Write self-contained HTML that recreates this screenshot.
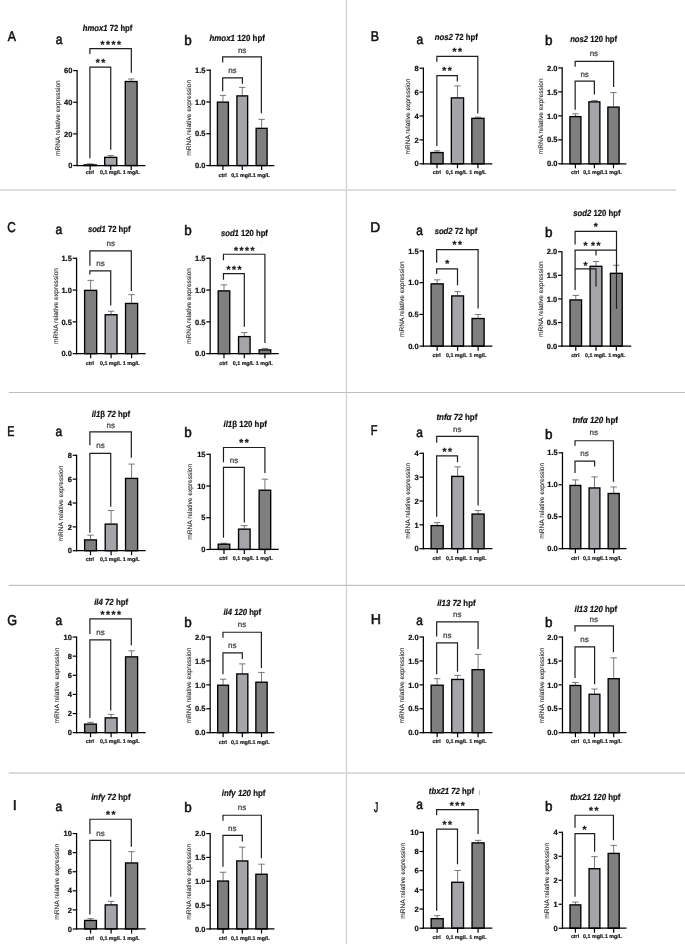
<!DOCTYPE html>
<html lang="en">
<head>
<meta charset="utf-8">
<title>mRNA relative expression panels</title>
<style>
html,body{margin:0;padding:0;background:#fff;}
body{width:685px;height:945px;overflow:hidden;}
svg{display:block;filter:blur(0.3px);font-family:"Liberation Sans",sans-serif;}
svg text{text-rendering:geometricPrecision;stroke:#222;stroke-width:0.22px;paint-order:stroke fill;}
svg text.L{stroke:#111;stroke-width:0.55px;}
svg text.yl{stroke:#333;stroke-width:0.14px;}
svg text.st{stroke:#1c1c1c;stroke-width:0.3px;}
</style>
</head>
<body>
<svg width="685" height="945" viewBox="0 0 685 945">
<rect x="0" y="0" width="685" height="945" fill="#ffffff"/>
<line x1="346.5" y1="0" x2="346.5" y2="944" stroke="#cfcfcf" stroke-width="1.2"/>
<line x1="0" y1="190" x2="676.4" y2="190" stroke="#d4d4d4" stroke-width="1.3"/>
<line x1="8.8" y1="392.5" x2="685" y2="392.5" stroke="#bfbfbf" stroke-width="1.1"/>
<line x1="8.8" y1="585.4" x2="685" y2="585.4" stroke="#c2c2c2" stroke-width="1.1"/>
<line x1="8.8" y1="773" x2="685" y2="773" stroke="#d0d0d0" stroke-width="1.7"/>
<g>
<text x="82.86" y="30.8" font-size="8.8" font-weight="bold" textLength="49.47" lengthAdjust="spacingAndGlyphs" fill="#111"><tspan font-style="italic">hmox1</tspan><tspan font-style="normal"> 72 hpf</tspan></text>
<text transform="translate(55.74 43.6) scale(0.86 1)" font-size="13.9" fill="#111" class="L">a</text>
<text transform="translate(7.78 41.09) scale(0.86 1)" font-size="14.2" fill="#111" class="L">A</text>
<line x1="90.14" y1="163.88" x2="90.14" y2="164.38" stroke="#606060" stroke-width="0.85"/>
<line x1="86.94" y1="163.88" x2="93.34" y2="163.88" stroke="#606060" stroke-width="0.85"/>
<rect x="84.11" y="164.88" width="12.06" height="0.63" fill="#7f7f7f" stroke="#000" stroke-width="1.35"/>
<line x1="90.14" y1="165.51" x2="90.14" y2="170.01" stroke="#000" stroke-width="1.2"/>
<line x1="110.73" y1="155.59" x2="110.73" y2="156.85" stroke="#606060" stroke-width="0.85"/>
<line x1="107.53" y1="155.59" x2="113.93" y2="155.59" stroke="#606060" stroke-width="0.85"/>
<rect x="104.7" y="157.35" width="12.06" height="8.16" fill="#a4a4a9" stroke="#000" stroke-width="1.35"/>
<line x1="110.73" y1="165.51" x2="110.73" y2="170.01" stroke="#000" stroke-width="1.2"/>
<line x1="131.2" y1="79.01" x2="131.2" y2="81.02" stroke="#606060" stroke-width="0.85"/>
<line x1="128" y1="79.01" x2="134.4" y2="79.01" stroke="#606060" stroke-width="0.85"/>
<rect x="125.29" y="81.52" width="11.81" height="83.99" fill="#7f7f7f" stroke="#000" stroke-width="1.35"/>
<line x1="131.2" y1="165.51" x2="131.2" y2="170.01" stroke="#000" stroke-width="1.2"/>
<line x1="77.09" y1="70" x2="77.09" y2="166.11" stroke="#000" stroke-width="1.25"/>
<line x1="76.49" y1="165.51" x2="145.38" y2="165.51" stroke="#000" stroke-width="1.25"/>
<line x1="73.19" y1="165.51" x2="77.09" y2="165.51" stroke="#000" stroke-width="1.2"/>
<text x="72.39" y="168.16" font-size="7.5" font-weight="bold" font-style="normal" text-anchor="end" fill="#111">0</text>
<line x1="73.19" y1="133.87" x2="77.09" y2="133.87" stroke="#000" stroke-width="1.2"/>
<text x="72.39" y="136.52" font-size="7.5" font-weight="bold" font-style="normal" text-anchor="end" fill="#111">20</text>
<line x1="73.19" y1="102.23" x2="77.09" y2="102.23" stroke="#000" stroke-width="1.2"/>
<text x="72.39" y="104.88" font-size="7.5" font-weight="bold" font-style="normal" text-anchor="end" fill="#111">40</text>
<line x1="73.19" y1="70.6" x2="77.09" y2="70.6" stroke="#000" stroke-width="1.2"/>
<text x="72.39" y="73.25" font-size="7.5" font-weight="bold" font-style="normal" text-anchor="end" fill="#111">60</text>
<text transform="translate(60.21 118.18) rotate(-90)" font-size="6.6" text-anchor="middle" fill="#333" class="yl" letter-spacing="0.0">mRNA relative expression</text>
<text x="89.89" y="174.31" font-size="5.3" font-weight="bold" font-style="normal" text-anchor="middle" fill="#222">ctrl</text>
<text x="110.73" y="174.31" font-size="5.3" font-weight="bold" font-style="normal" text-anchor="middle" fill="#222">0,1 mg/L</text>
<text x="131.32" y="174.31" font-size="5.3" font-weight="bold" font-style="normal" text-anchor="middle" fill="#222">1 mg/L</text>
<path d="M89.89 53.9 V48.62 H131.32 V72.73" fill="none" stroke="#1e1e1e" stroke-width="1.2"/>
<text x="111.51" y="47.8" font-size="10.2" font-weight="bold" font-style="normal" text-anchor="middle" fill="#1c1c1c" class="st" letter-spacing="1.55">****</text>
<path d="M89.89 158.35 V67.21 H110.73 V149.82" fill="none" stroke="#1e1e1e" stroke-width="1.2"/>
<text x="101.21" y="66.38" font-size="10.2" font-weight="bold" font-style="normal" text-anchor="middle" fill="#1c1c1c" class="st" letter-spacing="1.55">**</text>
</g>
<g>
<text x="209.45" y="40.72" font-size="8.8" font-weight="bold" textLength="55.42" lengthAdjust="spacingAndGlyphs" fill="#111"><tspan font-style="italic">hmox1</tspan><tspan font-style="normal"> 120 hpf</tspan></text>
<text transform="translate(184.23 44.96) scale(0.97 1)" font-size="13.9" fill="#111" class="L">b</text>
<line x1="222.93" y1="95.39" x2="222.93" y2="101.63" stroke="#606060" stroke-width="0.85"/>
<line x1="219.73" y1="95.39" x2="226.13" y2="95.39" stroke="#606060" stroke-width="0.85"/>
<rect x="217.43" y="102.13" width="10.98" height="63.41" fill="#7f7f7f" stroke="#000" stroke-width="1.35"/>
<line x1="222.93" y1="165.54" x2="222.93" y2="170.04" stroke="#000" stroke-width="1.2"/>
<line x1="242.27" y1="87.4" x2="242.27" y2="95.39" stroke="#606060" stroke-width="0.85"/>
<line x1="239.07" y1="87.4" x2="245.47" y2="87.4" stroke="#606060" stroke-width="0.85"/>
<rect x="236.91" y="95.89" width="10.73" height="69.65" fill="#a4a4a9" stroke="#000" stroke-width="1.35"/>
<line x1="242.27" y1="165.54" x2="242.27" y2="170.04" stroke="#000" stroke-width="1.2"/>
<line x1="261.62" y1="119.35" x2="261.62" y2="127.84" stroke="#606060" stroke-width="0.85"/>
<line x1="258.42" y1="119.35" x2="264.82" y2="119.35" stroke="#606060" stroke-width="0.85"/>
<rect x="256.13" y="128.34" width="10.98" height="37.19" fill="#7f7f7f" stroke="#000" stroke-width="1.35"/>
<line x1="261.62" y1="165.54" x2="261.62" y2="170.04" stroke="#000" stroke-width="1.2"/>
<line x1="210.19" y1="69.58" x2="210.19" y2="166.14" stroke="#000" stroke-width="1.25"/>
<line x1="209.59" y1="165.54" x2="274.35" y2="165.54" stroke="#000" stroke-width="1.25"/>
<line x1="206.29" y1="165.54" x2="210.19" y2="165.54" stroke="#000" stroke-width="1.2"/>
<text x="205.49" y="168.19" font-size="7.5" font-weight="bold" font-style="normal" text-anchor="end" fill="#111">0.0</text>
<line x1="206.29" y1="133.75" x2="210.19" y2="133.75" stroke="#000" stroke-width="1.2"/>
<text x="205.49" y="136.4" font-size="7.5" font-weight="bold" font-style="normal" text-anchor="end" fill="#111">0.5</text>
<line x1="206.29" y1="101.96" x2="210.19" y2="101.96" stroke="#000" stroke-width="1.2"/>
<text x="205.49" y="104.61" font-size="7.5" font-weight="bold" font-style="normal" text-anchor="end" fill="#111">1.0</text>
<line x1="206.29" y1="70.18" x2="210.19" y2="70.18" stroke="#000" stroke-width="1.2"/>
<text x="205.49" y="72.83" font-size="7.5" font-weight="bold" font-style="normal" text-anchor="end" fill="#111">1.5</text>
<text transform="translate(190.67 117.86) rotate(-90)" font-size="6.6" text-anchor="middle" fill="#333" class="yl" letter-spacing="0.0">mRNA relative expression</text>
<text x="222.68" y="176.67" font-size="5.3" font-weight="bold" font-style="normal" text-anchor="middle" fill="#222">ctrl</text>
<text x="241.9" y="176.67" font-size="5.3" font-weight="bold" font-style="normal" text-anchor="middle" fill="#222">0,1 mg/L</text>
<text x="261.37" y="176.67" font-size="5.3" font-weight="bold" font-style="normal" text-anchor="middle" fill="#222">1 mg/L</text>
<path d="M222.68 62.44 V56.95 H261.37 V113.36" fill="none" stroke="#1e1e1e" stroke-width="1.2"/>
<text x="242.15" y="52.56" font-size="8" font-weight="normal" font-style="normal" text-anchor="middle" fill="#444">ns</text>
<path d="M222.68 91.15 V77.92 H242.4 V83.66" fill="none" stroke="#1e1e1e" stroke-width="1.2"/>
<text x="232.41" y="73.28" font-size="8" font-weight="normal" font-style="normal" text-anchor="middle" fill="#444">ns</text>
</g>
<g>
<text x="434.87" y="39.97" font-size="8.8" font-weight="bold" textLength="42.94" lengthAdjust="spacingAndGlyphs" fill="#111"><tspan font-style="italic">nos2</tspan><tspan font-style="normal"> 72 hpf</tspan></text>
<text transform="translate(416.39 43.72) scale(0.86 1)" font-size="13.9" fill="#111" class="L">a</text>
<text transform="translate(370.71 41.22) scale(0.87 1)" font-size="14.2" fill="#111" class="L">B</text>
<line x1="436.99" y1="150.81" x2="436.99" y2="152.06" stroke="#606060" stroke-width="0.85"/>
<line x1="433.79" y1="150.81" x2="440.19" y2="150.81" stroke="#606060" stroke-width="0.85"/>
<rect x="430.87" y="152.56" width="12.23" height="11.23" fill="#7f7f7f" stroke="#000" stroke-width="1.35"/>
<line x1="436.99" y1="163.79" x2="436.99" y2="168.29" stroke="#000" stroke-width="1.2"/>
<line x1="457.46" y1="85.9" x2="457.46" y2="97.39" stroke="#606060" stroke-width="0.85"/>
<line x1="454.26" y1="85.9" x2="460.66" y2="85.9" stroke="#606060" stroke-width="0.85"/>
<rect x="451.34" y="97.89" width="12.23" height="65.9" fill="#a4a4a9" stroke="#000" stroke-width="1.35"/>
<line x1="457.46" y1="163.79" x2="457.46" y2="168.29" stroke="#000" stroke-width="1.2"/>
<line x1="477.93" y1="117.11" x2="477.93" y2="117.86" stroke="#606060" stroke-width="0.85"/>
<line x1="474.73" y1="117.11" x2="481.13" y2="117.11" stroke="#606060" stroke-width="0.85"/>
<rect x="471.81" y="118.36" width="12.23" height="45.43" fill="#7f7f7f" stroke="#000" stroke-width="1.35"/>
<line x1="477.93" y1="163.79" x2="477.93" y2="168.29" stroke="#000" stroke-width="1.2"/>
<line x1="423.38" y1="67.58" x2="423.38" y2="164.39" stroke="#000" stroke-width="1.25"/>
<line x1="422.78" y1="163.79" x2="492.28" y2="163.79" stroke="#000" stroke-width="1.25"/>
<line x1="419.48" y1="163.79" x2="423.38" y2="163.79" stroke="#000" stroke-width="1.2"/>
<text x="418.68" y="166.44" font-size="7.5" font-weight="bold" font-style="normal" text-anchor="end" fill="#111">0</text>
<line x1="419.48" y1="139.89" x2="423.38" y2="139.89" stroke="#000" stroke-width="1.2"/>
<text x="418.68" y="142.54" font-size="7.5" font-weight="bold" font-style="normal" text-anchor="end" fill="#111">2</text>
<line x1="419.48" y1="115.98" x2="423.38" y2="115.98" stroke="#000" stroke-width="1.2"/>
<text x="418.68" y="118.63" font-size="7.5" font-weight="bold" font-style="normal" text-anchor="end" fill="#111">4</text>
<line x1="419.48" y1="92.08" x2="423.38" y2="92.08" stroke="#000" stroke-width="1.2"/>
<text x="418.68" y="94.73" font-size="7.5" font-weight="bold" font-style="normal" text-anchor="end" fill="#111">6</text>
<line x1="419.48" y1="68.18" x2="423.38" y2="68.18" stroke="#000" stroke-width="1.2"/>
<text x="418.68" y="70.83" font-size="7.5" font-weight="bold" font-style="normal" text-anchor="end" fill="#111">8</text>
<text transform="translate(409.6 116.61) rotate(-90)" font-size="6.6" text-anchor="middle" fill="#333" class="yl" letter-spacing="0.0">mRNA relative expression</text>
<text x="436.86" y="174.18" font-size="5.3" font-weight="bold" font-style="normal" text-anchor="middle" fill="#222">ctrl</text>
<text x="456.58" y="174.18" font-size="5.3" font-weight="bold" font-style="normal" text-anchor="middle" fill="#222">0,1 mg/L</text>
<text x="477.8" y="174.18" font-size="5.3" font-weight="bold" font-style="normal" text-anchor="middle" fill="#222">1 mg/L</text>
<path d="M436.86 61.69 V56.32 H477.8 V113.61" fill="none" stroke="#1e1e1e" stroke-width="1.2"/>
<text x="458.11" y="54.81" font-size="10.2" font-weight="bold" font-style="normal" text-anchor="middle" fill="#1c1c1c" class="st" letter-spacing="1.55">**</text>
<path d="M436.86 146.07 V75.54 H457.33 V81.41" fill="none" stroke="#1e1e1e" stroke-width="1.2"/>
<text x="447.87" y="74.01" font-size="10.2" font-weight="bold" font-style="normal" text-anchor="middle" fill="#1c1c1c" class="st" letter-spacing="1.55">**</text>
</g>
<g>
<text x="570.17" y="42.47" font-size="8.8" font-weight="bold" textLength="46.93" lengthAdjust="spacingAndGlyphs" fill="#111"><tspan font-style="italic">nos2</tspan><tspan font-style="normal"> 120 hpf</tspan></text>
<text transform="translate(544.95 44.96) scale(0.97 1)" font-size="13.9" fill="#111" class="L">b</text>
<line x1="575.41" y1="113.86" x2="575.41" y2="116.11" stroke="#606060" stroke-width="0.85"/>
<line x1="572.21" y1="113.86" x2="578.61" y2="113.86" stroke="#606060" stroke-width="0.85"/>
<rect x="569.92" y="116.61" width="10.98" height="47.18" fill="#7f7f7f" stroke="#000" stroke-width="1.35"/>
<line x1="575.41" y1="163.79" x2="575.41" y2="168.29" stroke="#000" stroke-width="1.2"/>
<line x1="594.38" y1="100.38" x2="594.38" y2="101.38" stroke="#606060" stroke-width="0.85"/>
<line x1="591.18" y1="100.38" x2="597.58" y2="100.38" stroke="#606060" stroke-width="0.85"/>
<rect x="588.89" y="101.88" width="10.98" height="61.91" fill="#a4a4a9" stroke="#000" stroke-width="1.35"/>
<line x1="594.38" y1="163.79" x2="594.38" y2="168.29" stroke="#000" stroke-width="1.2"/>
<line x1="613.48" y1="92.64" x2="613.48" y2="106.62" stroke="#606060" stroke-width="0.85"/>
<line x1="610.28" y1="92.64" x2="616.68" y2="92.64" stroke="#606060" stroke-width="0.85"/>
<rect x="607.86" y="107.12" width="11.23" height="56.67" fill="#7f7f7f" stroke="#000" stroke-width="1.35"/>
<line x1="613.48" y1="163.79" x2="613.48" y2="168.29" stroke="#000" stroke-width="1.2"/>
<line x1="562.18" y1="67.33" x2="562.18" y2="164.39" stroke="#000" stroke-width="1.25"/>
<line x1="561.58" y1="163.79" x2="626.34" y2="163.79" stroke="#000" stroke-width="1.25"/>
<line x1="558.28" y1="163.79" x2="562.18" y2="163.79" stroke="#000" stroke-width="1.2"/>
<text x="557.48" y="166.44" font-size="7.5" font-weight="bold" font-style="normal" text-anchor="end" fill="#111">0.0</text>
<line x1="558.28" y1="139.82" x2="562.18" y2="139.82" stroke="#000" stroke-width="1.2"/>
<text x="557.48" y="142.47" font-size="7.5" font-weight="bold" font-style="normal" text-anchor="end" fill="#111">0.5</text>
<line x1="558.28" y1="115.86" x2="562.18" y2="115.86" stroke="#000" stroke-width="1.2"/>
<text x="557.48" y="118.51" font-size="7.5" font-weight="bold" font-style="normal" text-anchor="end" fill="#111">1.0</text>
<line x1="558.28" y1="91.89" x2="562.18" y2="91.89" stroke="#000" stroke-width="1.2"/>
<text x="557.48" y="94.54" font-size="7.5" font-weight="bold" font-style="normal" text-anchor="end" fill="#111">1.5</text>
<line x1="558.28" y1="67.93" x2="562.18" y2="67.93" stroke="#000" stroke-width="1.2"/>
<text x="557.48" y="70.58" font-size="7.5" font-weight="bold" font-style="normal" text-anchor="end" fill="#111">2.0</text>
<text transform="translate(543.16 116.36) rotate(-90)" font-size="6.6" text-anchor="middle" fill="#333" class="yl" letter-spacing="0.0">mRNA relative expression</text>
<text x="575.16" y="174.18" font-size="5.3" font-weight="bold" font-style="normal" text-anchor="middle" fill="#222">ctrl</text>
<text x="593.88" y="174.18" font-size="5.3" font-weight="bold" font-style="normal" text-anchor="middle" fill="#222">0,1 mg/L</text>
<text x="613.35" y="174.18" font-size="5.3" font-weight="bold" font-style="normal" text-anchor="middle" fill="#222">1 mg/L</text>
<path d="M575.16 66.68 V61.44 H613.6 V86.9" fill="none" stroke="#1e1e1e" stroke-width="1.2"/>
<text x="593.88" y="56.3" font-size="8" font-weight="normal" font-style="normal" text-anchor="middle" fill="#444">ns</text>
<path d="M575.16 109.87 V81.16 H594.38 V94.39" fill="none" stroke="#1e1e1e" stroke-width="1.2"/>
<text x="584.65" y="77.02" font-size="8" font-weight="normal" font-style="normal" text-anchor="middle" fill="#444">ns</text>
</g>
<g>
<text x="87.88" y="232.14" font-size="8.8" font-weight="bold" textLength="42.69" lengthAdjust="spacingAndGlyphs" fill="#111"><tspan font-style="italic">sod1</tspan><tspan font-style="normal"> 72 hpf</tspan></text>
<text transform="translate(55.49 233.9) scale(0.86 1)" font-size="13.9" fill="#111" class="L">a</text>
<text transform="translate(7.28 232.14) scale(0.83 1)" font-size="14.2" fill="#111" class="L">C</text>
<line x1="90.65" y1="280.35" x2="90.65" y2="289.89" stroke="#606060" stroke-width="0.85"/>
<line x1="87.45" y1="280.35" x2="93.85" y2="280.35" stroke="#606060" stroke-width="0.85"/>
<rect x="84.62" y="290.39" width="12.06" height="63.28" fill="#7f7f7f" stroke="#000" stroke-width="1.35"/>
<line x1="90.65" y1="353.67" x2="90.65" y2="358.17" stroke="#000" stroke-width="1.2"/>
<line x1="111.11" y1="311.24" x2="111.11" y2="314.25" stroke="#606060" stroke-width="0.85"/>
<line x1="107.91" y1="311.24" x2="114.31" y2="311.24" stroke="#606060" stroke-width="0.85"/>
<rect x="105.21" y="314.75" width="11.81" height="38.92" fill="#a4a4a9" stroke="#000" stroke-width="1.35"/>
<line x1="111.11" y1="353.67" x2="111.11" y2="358.17" stroke="#000" stroke-width="1.2"/>
<line x1="131.57" y1="294.66" x2="131.57" y2="302.95" stroke="#606060" stroke-width="0.85"/>
<line x1="128.37" y1="294.66" x2="134.77" y2="294.66" stroke="#606060" stroke-width="0.85"/>
<rect x="125.55" y="303.45" width="12.06" height="50.22" fill="#7f7f7f" stroke="#000" stroke-width="1.35"/>
<line x1="131.57" y1="353.67" x2="131.57" y2="358.17" stroke="#000" stroke-width="1.2"/>
<line x1="76.58" y1="257.65" x2="76.58" y2="354.27" stroke="#000" stroke-width="1.25"/>
<line x1="75.98" y1="353.67" x2="145.64" y2="353.67" stroke="#000" stroke-width="1.25"/>
<line x1="72.68" y1="353.67" x2="76.58" y2="353.67" stroke="#000" stroke-width="1.2"/>
<text x="71.88" y="356.32" font-size="7.5" font-weight="bold" font-style="normal" text-anchor="end" fill="#111">0.0</text>
<line x1="72.68" y1="321.86" x2="76.58" y2="321.86" stroke="#000" stroke-width="1.2"/>
<text x="71.88" y="324.51" font-size="7.5" font-weight="bold" font-style="normal" text-anchor="end" fill="#111">0.5</text>
<line x1="72.68" y1="290.06" x2="76.58" y2="290.06" stroke="#000" stroke-width="1.2"/>
<text x="71.88" y="292.71" font-size="7.5" font-weight="bold" font-style="normal" text-anchor="end" fill="#111">1.0</text>
<line x1="72.68" y1="258.25" x2="76.58" y2="258.25" stroke="#000" stroke-width="1.2"/>
<text x="71.88" y="260.9" font-size="7.5" font-weight="bold" font-style="normal" text-anchor="end" fill="#111">1.5</text>
<text transform="translate(57.7 305.96) rotate(-90)" font-size="6.6" text-anchor="middle" fill="#333" class="yl" letter-spacing="0.0">mRNA relative expression</text>
<text x="89.89" y="364.61" font-size="5.3" font-weight="bold" font-style="normal" text-anchor="middle" fill="#222">ctrl</text>
<text x="110.73" y="364.61" font-size="5.3" font-weight="bold" font-style="normal" text-anchor="middle" fill="#222">0,1 mg/L</text>
<text x="131.32" y="364.61" font-size="5.3" font-weight="bold" font-style="normal" text-anchor="middle" fill="#222">1 mg/L</text>
<path d="M89.89 265.79 V250.97 H131.32 V290.9" fill="none" stroke="#1e1e1e" stroke-width="1.2"/>
<text x="110.73" y="246.04" font-size="8" font-weight="normal" font-style="normal" text-anchor="middle" fill="#444">ns</text>
<path d="M89.89 274.58 V270.81 H110.73 V305.46" fill="none" stroke="#1e1e1e" stroke-width="1.2"/>
<text x="100.44" y="265.63" font-size="8" font-weight="normal" font-style="normal" text-anchor="middle" fill="#444">ns</text>
</g>
<g>
<text x="220.96" y="236.41" font-size="8.8" font-weight="bold" textLength="46.95" lengthAdjust="spacingAndGlyphs" fill="#111"><tspan font-style="italic">sod1</tspan><tspan font-style="normal"> 120 hpf</tspan></text>
<text transform="translate(184.3 235.15) scale(0.97 1)" font-size="13.9" fill="#111" class="L">b</text>
<line x1="223.98" y1="284.87" x2="223.98" y2="290.39" stroke="#606060" stroke-width="0.85"/>
<line x1="220.78" y1="284.87" x2="227.18" y2="284.87" stroke="#606060" stroke-width="0.85"/>
<rect x="218.2" y="290.89" width="11.55" height="62.78" fill="#7f7f7f" stroke="#000" stroke-width="1.35"/>
<line x1="223.98" y1="353.67" x2="223.98" y2="358.17" stroke="#000" stroke-width="1.2"/>
<line x1="244.32" y1="332.58" x2="244.32" y2="336.09" stroke="#606060" stroke-width="0.85"/>
<line x1="241.12" y1="332.58" x2="247.52" y2="332.58" stroke="#606060" stroke-width="0.85"/>
<rect x="238.54" y="336.59" width="11.55" height="17.08" fill="#a4a4a9" stroke="#000" stroke-width="1.35"/>
<line x1="244.32" y1="353.67" x2="244.32" y2="358.17" stroke="#000" stroke-width="1.2"/>
<line x1="264.91" y1="348.4" x2="264.91" y2="349.4" stroke="#606060" stroke-width="0.85"/>
<line x1="261.71" y1="348.4" x2="268.11" y2="348.4" stroke="#606060" stroke-width="0.85"/>
<rect x="259.13" y="349.9" width="11.55" height="3.77" fill="#7f7f7f" stroke="#000" stroke-width="1.35"/>
<line x1="264.91" y1="353.67" x2="264.91" y2="358.17" stroke="#000" stroke-width="1.2"/>
<line x1="210.17" y1="257.65" x2="210.17" y2="354.27" stroke="#000" stroke-width="1.25"/>
<line x1="209.57" y1="353.67" x2="278.72" y2="353.67" stroke="#000" stroke-width="1.25"/>
<line x1="206.27" y1="353.67" x2="210.17" y2="353.67" stroke="#000" stroke-width="1.2"/>
<text x="205.47" y="356.32" font-size="7.5" font-weight="bold" font-style="normal" text-anchor="end" fill="#111">0.0</text>
<line x1="206.27" y1="321.86" x2="210.17" y2="321.86" stroke="#000" stroke-width="1.2"/>
<text x="205.47" y="324.51" font-size="7.5" font-weight="bold" font-style="normal" text-anchor="end" fill="#111">0.5</text>
<line x1="206.27" y1="290.06" x2="210.17" y2="290.06" stroke="#000" stroke-width="1.2"/>
<text x="205.47" y="292.71" font-size="7.5" font-weight="bold" font-style="normal" text-anchor="end" fill="#111">1.0</text>
<line x1="206.27" y1="258.25" x2="210.17" y2="258.25" stroke="#000" stroke-width="1.2"/>
<text x="205.47" y="260.9" font-size="7.5" font-weight="bold" font-style="normal" text-anchor="end" fill="#111">1.5</text>
<text transform="translate(190.78 305.96) rotate(-90)" font-size="6.6" text-anchor="middle" fill="#333" class="yl" letter-spacing="0.0">mRNA relative expression</text>
<text x="223.47" y="364.61" font-size="5.3" font-weight="bold" font-style="normal" text-anchor="middle" fill="#222">ctrl</text>
<text x="243.56" y="364.61" font-size="5.3" font-weight="bold" font-style="normal" text-anchor="middle" fill="#222">0,1 mg/L</text>
<text x="264.4" y="364.61" font-size="5.3" font-weight="bold" font-style="normal" text-anchor="middle" fill="#222">1 mg/L</text>
<path d="M223.47 260.26 V254.24 H264.91 V343.12" fill="none" stroke="#1e1e1e" stroke-width="1.2"/>
<text x="245.09" y="253.59" font-size="10.2" font-weight="bold" font-style="normal" text-anchor="middle" fill="#1c1c1c" class="st" letter-spacing="1.55">****</text>
<path d="M223.47 279.85 V273.57 H244.32 V326.8" fill="none" stroke="#1e1e1e" stroke-width="1.2"/>
<text x="234.8" y="272.5" font-size="10.2" font-weight="bold" font-style="normal" text-anchor="middle" fill="#1c1c1c" class="st" letter-spacing="1.55">***</text>
</g>
<g>
<text x="434.65" y="233.9" font-size="8.8" font-weight="bold" textLength="42.69" lengthAdjust="spacingAndGlyphs" fill="#111"><tspan font-style="italic">sod2</tspan><tspan font-style="normal"> 72 hpf</tspan></text>
<text transform="translate(416.32 234.65) scale(0.86 1)" font-size="13.9" fill="#111" class="L">a</text>
<text transform="translate(370.37 232.14) scale(0.97 1)" font-size="14.2" fill="#111" class="L">D</text>
<line x1="437.16" y1="279.85" x2="437.16" y2="283.36" stroke="#606060" stroke-width="0.85"/>
<line x1="433.96" y1="279.85" x2="440.36" y2="279.85" stroke="#606060" stroke-width="0.85"/>
<rect x="431.13" y="283.86" width="12.06" height="62.27" fill="#7f7f7f" stroke="#000" stroke-width="1.35"/>
<line x1="437.16" y1="346.14" x2="437.16" y2="350.64" stroke="#000" stroke-width="1.2"/>
<line x1="457.62" y1="291.65" x2="457.62" y2="295.42" stroke="#606060" stroke-width="0.85"/>
<line x1="454.42" y1="291.65" x2="460.82" y2="291.65" stroke="#606060" stroke-width="0.85"/>
<rect x="451.72" y="295.92" width="11.81" height="50.22" fill="#a4a4a9" stroke="#000" stroke-width="1.35"/>
<line x1="457.62" y1="346.14" x2="457.62" y2="350.64" stroke="#000" stroke-width="1.2"/>
<line x1="478.09" y1="314.5" x2="478.09" y2="318.01" stroke="#606060" stroke-width="0.85"/>
<line x1="474.89" y1="314.5" x2="481.29" y2="314.5" stroke="#606060" stroke-width="0.85"/>
<rect x="472.06" y="318.51" width="12.06" height="27.62" fill="#7f7f7f" stroke="#000" stroke-width="1.35"/>
<line x1="478.09" y1="346.14" x2="478.09" y2="350.64" stroke="#000" stroke-width="1.2"/>
<line x1="423.35" y1="250.37" x2="423.35" y2="346.74" stroke="#000" stroke-width="1.25"/>
<line x1="422.75" y1="346.14" x2="492.4" y2="346.14" stroke="#000" stroke-width="1.25"/>
<line x1="419.45" y1="346.14" x2="423.35" y2="346.14" stroke="#000" stroke-width="1.2"/>
<text x="418.65" y="348.79" font-size="7.5" font-weight="bold" font-style="normal" text-anchor="end" fill="#111">0.0</text>
<line x1="419.45" y1="314.42" x2="423.35" y2="314.42" stroke="#000" stroke-width="1.2"/>
<text x="418.65" y="317.07" font-size="7.5" font-weight="bold" font-style="normal" text-anchor="end" fill="#111">0.5</text>
<line x1="419.45" y1="282.69" x2="423.35" y2="282.69" stroke="#000" stroke-width="1.2"/>
<text x="418.65" y="285.34" font-size="7.5" font-weight="bold" font-style="normal" text-anchor="end" fill="#111">1.0</text>
<line x1="419.45" y1="250.97" x2="423.35" y2="250.97" stroke="#000" stroke-width="1.2"/>
<text x="418.65" y="253.62" font-size="7.5" font-weight="bold" font-style="normal" text-anchor="end" fill="#111">1.5</text>
<text transform="translate(404.46 299.18) rotate(-90)" font-size="6.6" text-anchor="middle" fill="#333" class="yl" letter-spacing="0.0">mRNA relative expression</text>
<text x="436.66" y="356.83" font-size="5.3" font-weight="bold" font-style="normal" text-anchor="middle" fill="#222">ctrl</text>
<text x="456.75" y="356.83" font-size="5.3" font-weight="bold" font-style="normal" text-anchor="middle" fill="#222">0,1 mg/L</text>
<text x="477.84" y="356.83" font-size="5.3" font-weight="bold" font-style="normal" text-anchor="middle" fill="#222">1 mg/L</text>
<path d="M436.66 262.77 V249.72 H478.09 V308.47" fill="none" stroke="#1e1e1e" stroke-width="1.2"/>
<text x="458.02" y="248.39" font-size="10.2" font-weight="bold" font-style="normal" text-anchor="middle" fill="#1c1c1c" class="st" letter-spacing="1.55">**</text>
<path d="M436.66 274.07 V268.8 H457.5 V285.37" fill="none" stroke="#1e1e1e" stroke-width="1.2"/>
<text x="447.98" y="266.85" font-size="10.2" font-weight="bold" font-style="normal" text-anchor="middle" fill="#1c1c1c" class="st" letter-spacing="1.55">*</text>
</g>
<g>
<text x="573.26" y="215.57" font-size="8.8" font-weight="bold" textLength="47.21" lengthAdjust="spacingAndGlyphs" fill="#111"><tspan font-style="italic">sod2</tspan><tspan font-style="normal"> 120 hpf</tspan></text>
<text transform="translate(544.89 237.16) scale(0.97 1)" font-size="13.9" fill="#111" class="L">b</text>
<line x1="575.77" y1="295.42" x2="575.77" y2="299.43" stroke="#606060" stroke-width="0.85"/>
<line x1="572.57" y1="295.42" x2="578.97" y2="295.42" stroke="#606060" stroke-width="0.85"/>
<rect x="570" y="299.93" width="11.55" height="46.2" fill="#7f7f7f" stroke="#000" stroke-width="1.35"/>
<line x1="575.77" y1="346.14" x2="575.77" y2="350.64" stroke="#000" stroke-width="1.2"/>
<line x1="595.99" y1="261.52" x2="595.99" y2="265.79" stroke="#606060" stroke-width="0.85"/>
<line x1="592.79" y1="261.52" x2="599.19" y2="261.52" stroke="#606060" stroke-width="0.85"/>
<rect x="590.08" y="266.29" width="11.81" height="79.85" fill="#a4a4a9" stroke="#000" stroke-width="1.35"/>
<line x1="595.99" y1="346.14" x2="595.99" y2="350.64" stroke="#000" stroke-width="1.2"/>
<line x1="616.33" y1="265.28" x2="616.33" y2="272.82" stroke="#606060" stroke-width="0.85"/>
<line x1="613.13" y1="265.28" x2="619.53" y2="265.28" stroke="#606060" stroke-width="0.85"/>
<rect x="610.42" y="273.32" width="11.81" height="72.82" fill="#7f7f7f" stroke="#000" stroke-width="1.35"/>
<line x1="616.33" y1="346.14" x2="616.33" y2="350.64" stroke="#000" stroke-width="1.2"/>
<line x1="561.96" y1="251.13" x2="561.96" y2="346.74" stroke="#000" stroke-width="1.25"/>
<line x1="561.36" y1="346.14" x2="631.27" y2="346.14" stroke="#000" stroke-width="1.25"/>
<line x1="558.06" y1="346.14" x2="561.96" y2="346.14" stroke="#000" stroke-width="1.2"/>
<text x="557.26" y="348.79" font-size="7.5" font-weight="bold" font-style="normal" text-anchor="end" fill="#111">0.0</text>
<line x1="558.06" y1="322.53" x2="561.96" y2="322.53" stroke="#000" stroke-width="1.2"/>
<text x="557.26" y="325.18" font-size="7.5" font-weight="bold" font-style="normal" text-anchor="end" fill="#111">0.5</text>
<line x1="558.06" y1="298.93" x2="561.96" y2="298.93" stroke="#000" stroke-width="1.2"/>
<text x="557.26" y="301.58" font-size="7.5" font-weight="bold" font-style="normal" text-anchor="end" fill="#111">1.0</text>
<line x1="558.06" y1="275.33" x2="561.96" y2="275.33" stroke="#000" stroke-width="1.2"/>
<text x="557.26" y="277.98" font-size="7.5" font-weight="bold" font-style="normal" text-anchor="end" fill="#111">1.5</text>
<line x1="558.06" y1="251.73" x2="561.96" y2="251.73" stroke="#000" stroke-width="1.2"/>
<text x="557.26" y="254.38" font-size="7.5" font-weight="bold" font-style="normal" text-anchor="end" fill="#111">2.0</text>
<text transform="translate(543.08 299.18) rotate(-90)" font-size="6.6" text-anchor="middle" fill="#333" class="yl" letter-spacing="0.0">mRNA relative expression</text>
<text x="575.27" y="356.83" font-size="5.3" font-weight="bold" font-style="normal" text-anchor="middle" fill="#222">ctrl</text>
<text x="595.86" y="356.83" font-size="5.3" font-weight="bold" font-style="normal" text-anchor="middle" fill="#222">0,1 mg/L</text>
<text x="616.7" y="356.83" font-size="5.3" font-weight="bold" font-style="normal" text-anchor="middle" fill="#222">1 mg/L</text>
</g>
<g>
<text x="91.65" y="417.14" font-size="8.8" font-weight="bold" textLength="38.42" lengthAdjust="spacingAndGlyphs" fill="#111"><tspan font-style="italic">il1</tspan><tspan font-style="normal">β</tspan><tspan font-style="italic"> 72</tspan><tspan font-style="normal"> hpf</tspan></text>
<text transform="translate(55.49 435.97) scale(0.86 1)" font-size="13.9" fill="#111" class="L">a</text>
<text transform="translate(7.28 435.97) scale(0.76 1)" font-size="14.2" fill="#111" class="L">E</text>
<line x1="90.52" y1="535.15" x2="90.52" y2="539.42" stroke="#606060" stroke-width="0.85"/>
<line x1="87.32" y1="535.15" x2="93.72" y2="535.15" stroke="#606060" stroke-width="0.85"/>
<rect x="84.62" y="539.92" width="11.81" height="10.8" fill="#7f7f7f" stroke="#000" stroke-width="1.35"/>
<line x1="90.52" y1="550.72" x2="90.52" y2="555.22" stroke="#000" stroke-width="1.2"/>
<line x1="111.11" y1="510.55" x2="111.11" y2="523.6" stroke="#606060" stroke-width="0.85"/>
<line x1="107.91" y1="510.55" x2="114.31" y2="510.55" stroke="#606060" stroke-width="0.85"/>
<rect x="105.21" y="524.1" width="11.81" height="26.62" fill="#a4a4a9" stroke="#000" stroke-width="1.35"/>
<line x1="111.11" y1="550.72" x2="111.11" y2="555.22" stroke="#000" stroke-width="1.2"/>
<line x1="131.57" y1="464.09" x2="131.57" y2="477.91" stroke="#606060" stroke-width="0.85"/>
<line x1="128.37" y1="464.09" x2="134.77" y2="464.09" stroke="#606060" stroke-width="0.85"/>
<rect x="125.55" y="478.41" width="12.06" height="72.32" fill="#7f7f7f" stroke="#000" stroke-width="1.35"/>
<line x1="131.57" y1="550.72" x2="131.57" y2="555.22" stroke="#000" stroke-width="1.2"/>
<line x1="76.58" y1="454.71" x2="76.58" y2="551.32" stroke="#000" stroke-width="1.25"/>
<line x1="75.98" y1="550.72" x2="145.64" y2="550.72" stroke="#000" stroke-width="1.25"/>
<line x1="72.68" y1="550.72" x2="76.58" y2="550.72" stroke="#000" stroke-width="1.2"/>
<text x="71.88" y="553.37" font-size="7.5" font-weight="bold" font-style="normal" text-anchor="end" fill="#111">0</text>
<line x1="72.68" y1="526.87" x2="76.58" y2="526.87" stroke="#000" stroke-width="1.2"/>
<text x="71.88" y="529.52" font-size="7.5" font-weight="bold" font-style="normal" text-anchor="end" fill="#111">2</text>
<line x1="72.68" y1="503.01" x2="76.58" y2="503.01" stroke="#000" stroke-width="1.2"/>
<text x="71.88" y="505.66" font-size="7.5" font-weight="bold" font-style="normal" text-anchor="end" fill="#111">4</text>
<line x1="72.68" y1="479.16" x2="76.58" y2="479.16" stroke="#000" stroke-width="1.2"/>
<text x="71.88" y="481.81" font-size="7.5" font-weight="bold" font-style="normal" text-anchor="end" fill="#111">6</text>
<line x1="72.68" y1="455.31" x2="76.58" y2="455.31" stroke="#000" stroke-width="1.2"/>
<text x="71.88" y="457.96" font-size="7.5" font-weight="bold" font-style="normal" text-anchor="end" fill="#111">8</text>
<text transform="translate(63.22 503.52) rotate(-90)" font-size="6.6" text-anchor="middle" fill="#333" class="yl" letter-spacing="0.0">mRNA relative expression</text>
<text x="89.89" y="560.91" font-size="5.3" font-weight="bold" font-style="normal" text-anchor="middle" fill="#222">ctrl</text>
<text x="110.73" y="560.91" font-size="5.3" font-weight="bold" font-style="normal" text-anchor="middle" fill="#222">0,1 mg/L</text>
<text x="131.32" y="560.91" font-size="5.3" font-weight="bold" font-style="normal" text-anchor="middle" fill="#222">1 mg/L</text>
<path d="M89.89 445.26 V431.95 H131.32 V457.82" fill="none" stroke="#1e1e1e" stroke-width="1.2"/>
<text x="110.73" y="427.78" font-size="8" font-weight="normal" font-style="normal" text-anchor="middle" fill="#444">ns</text>
<path d="M89.89 532.64 V453.3 H110.73 V506.78" fill="none" stroke="#1e1e1e" stroke-width="1.2"/>
<text x="100.44" y="447.86" font-size="8" font-weight="normal" font-style="normal" text-anchor="middle" fill="#444">ns</text>
</g>
<g>
<text x="223.47" y="427.18" font-size="8.8" font-weight="bold" textLength="43.44" lengthAdjust="spacingAndGlyphs" fill="#111"><tspan font-style="italic">il1</tspan><tspan font-style="normal">β</tspan><tspan font-style="normal"> 120 hpf</tspan></text>
<text transform="translate(184.3 436.98) scale(0.97 1)" font-size="13.9" fill="#111" class="L">b</text>
<line x1="223.98" y1="543.19" x2="223.98" y2="543.69" stroke="#606060" stroke-width="0.85"/>
<line x1="220.78" y1="543.19" x2="227.18" y2="543.19" stroke="#606060" stroke-width="0.85"/>
<rect x="218.2" y="544.19" width="11.55" height="5.28" fill="#7f7f7f" stroke="#000" stroke-width="1.35"/>
<line x1="223.98" y1="549.47" x2="223.98" y2="553.97" stroke="#000" stroke-width="1.2"/>
<line x1="244.32" y1="525.61" x2="244.32" y2="528.63" stroke="#606060" stroke-width="0.85"/>
<line x1="241.12" y1="525.61" x2="247.52" y2="525.61" stroke="#606060" stroke-width="0.85"/>
<rect x="238.54" y="529.13" width="11.55" height="20.34" fill="#a4a4a9" stroke="#000" stroke-width="1.35"/>
<line x1="244.32" y1="549.47" x2="244.32" y2="553.97" stroke="#000" stroke-width="1.2"/>
<line x1="264.91" y1="479.16" x2="264.91" y2="489.71" stroke="#606060" stroke-width="0.85"/>
<line x1="261.71" y1="479.16" x2="268.11" y2="479.16" stroke="#606060" stroke-width="0.85"/>
<rect x="259.13" y="490.21" width="11.55" height="59.26" fill="#7f7f7f" stroke="#000" stroke-width="1.35"/>
<line x1="264.91" y1="549.47" x2="264.91" y2="553.97" stroke="#000" stroke-width="1.2"/>
<line x1="210.17" y1="453.7" x2="210.17" y2="550.07" stroke="#000" stroke-width="1.25"/>
<line x1="209.57" y1="549.47" x2="278.72" y2="549.47" stroke="#000" stroke-width="1.25"/>
<line x1="206.27" y1="549.47" x2="210.17" y2="549.47" stroke="#000" stroke-width="1.2"/>
<text x="205.47" y="552.12" font-size="7.5" font-weight="bold" font-style="normal" text-anchor="end" fill="#111">0</text>
<line x1="206.27" y1="517.75" x2="210.17" y2="517.75" stroke="#000" stroke-width="1.2"/>
<text x="205.47" y="520.4" font-size="7.5" font-weight="bold" font-style="normal" text-anchor="end" fill="#111">5</text>
<line x1="206.27" y1="486.02" x2="210.17" y2="486.02" stroke="#000" stroke-width="1.2"/>
<text x="205.47" y="488.67" font-size="7.5" font-weight="bold" font-style="normal" text-anchor="end" fill="#111">10</text>
<line x1="206.27" y1="454.3" x2="210.17" y2="454.3" stroke="#000" stroke-width="1.2"/>
<text x="205.47" y="456.95" font-size="7.5" font-weight="bold" font-style="normal" text-anchor="end" fill="#111">15</text>
<text transform="translate(192.03 501.76) rotate(-90)" font-size="6.6" text-anchor="middle" fill="#333" class="yl" letter-spacing="0.0">mRNA relative expression</text>
<text x="223.47" y="560.16" font-size="5.3" font-weight="bold" font-style="normal" text-anchor="middle" fill="#222">ctrl</text>
<text x="243.56" y="560.16" font-size="5.3" font-weight="bold" font-style="normal" text-anchor="middle" fill="#222">0,1 mg/L</text>
<text x="264.4" y="560.16" font-size="5.3" font-weight="bold" font-style="normal" text-anchor="middle" fill="#222">1 mg/L</text>
<path d="M223.47 462.34 V447.52 H264.91 V472.88" fill="none" stroke="#1e1e1e" stroke-width="1.2"/>
<text x="244.84" y="445.95" font-size="10.2" font-weight="bold" font-style="normal" text-anchor="middle" fill="#1c1c1c" class="st" letter-spacing="1.55">**</text>
<path d="M223.47 537.67 V467.36 H244.32 V522.6" fill="none" stroke="#1e1e1e" stroke-width="1.2"/>
<text x="234.02" y="463.18" font-size="8" font-weight="normal" font-style="normal" text-anchor="middle" fill="#444">ns</text>
</g>
<g>
<text x="436.41" y="419.9" font-size="8.8" font-weight="bold" textLength="40.93" lengthAdjust="spacingAndGlyphs" fill="#111"><tspan font-style="italic">tnfα 72</tspan><tspan font-style="normal"> hpf</tspan></text>
<text transform="translate(416.32 436.98) scale(0.86 1)" font-size="13.9" fill="#111" class="L">a</text>
<text transform="translate(370.87 434.72) scale(0.78 1)" font-size="14.2" fill="#111" class="L">F</text>
<line x1="437.16" y1="522.6" x2="437.16" y2="525.11" stroke="#606060" stroke-width="0.85"/>
<line x1="433.96" y1="522.6" x2="440.36" y2="522.6" stroke="#606060" stroke-width="0.85"/>
<rect x="431.13" y="525.61" width="12.06" height="23.1" fill="#7f7f7f" stroke="#000" stroke-width="1.35"/>
<line x1="437.16" y1="548.71" x2="437.16" y2="553.21" stroke="#000" stroke-width="1.2"/>
<line x1="457.62" y1="466.86" x2="457.62" y2="475.9" stroke="#606060" stroke-width="0.85"/>
<line x1="454.42" y1="466.86" x2="460.82" y2="466.86" stroke="#606060" stroke-width="0.85"/>
<rect x="451.72" y="476.4" width="11.81" height="72.32" fill="#a4a4a9" stroke="#000" stroke-width="1.35"/>
<line x1="457.62" y1="548.71" x2="457.62" y2="553.21" stroke="#000" stroke-width="1.2"/>
<line x1="478.09" y1="510.55" x2="478.09" y2="513.56" stroke="#606060" stroke-width="0.85"/>
<line x1="474.89" y1="510.55" x2="481.29" y2="510.55" stroke="#606060" stroke-width="0.85"/>
<rect x="472.06" y="514.06" width="12.06" height="34.65" fill="#7f7f7f" stroke="#000" stroke-width="1.35"/>
<line x1="478.09" y1="548.71" x2="478.09" y2="553.21" stroke="#000" stroke-width="1.2"/>
<line x1="423.35" y1="452.7" x2="423.35" y2="549.31" stroke="#000" stroke-width="1.25"/>
<line x1="422.75" y1="548.71" x2="492.4" y2="548.71" stroke="#000" stroke-width="1.25"/>
<line x1="419.45" y1="548.71" x2="423.35" y2="548.71" stroke="#000" stroke-width="1.2"/>
<text x="418.65" y="551.36" font-size="7.5" font-weight="bold" font-style="normal" text-anchor="end" fill="#111">0</text>
<line x1="419.45" y1="524.86" x2="423.35" y2="524.86" stroke="#000" stroke-width="1.2"/>
<text x="418.65" y="527.51" font-size="7.5" font-weight="bold" font-style="normal" text-anchor="end" fill="#111">1</text>
<line x1="419.45" y1="501.01" x2="423.35" y2="501.01" stroke="#000" stroke-width="1.2"/>
<text x="418.65" y="503.66" font-size="7.5" font-weight="bold" font-style="normal" text-anchor="end" fill="#111">2</text>
<line x1="419.45" y1="477.15" x2="423.35" y2="477.15" stroke="#000" stroke-width="1.2"/>
<text x="418.65" y="479.8" font-size="7.5" font-weight="bold" font-style="normal" text-anchor="end" fill="#111">3</text>
<line x1="419.45" y1="453.3" x2="423.35" y2="453.3" stroke="#000" stroke-width="1.2"/>
<text x="418.65" y="455.95" font-size="7.5" font-weight="bold" font-style="normal" text-anchor="end" fill="#111">4</text>
<text transform="translate(409.99 500.75) rotate(-90)" font-size="6.6" text-anchor="middle" fill="#333" class="yl" letter-spacing="0.0">mRNA relative expression</text>
<text x="436.66" y="560.16" font-size="5.3" font-weight="bold" font-style="normal" text-anchor="middle" fill="#222">ctrl</text>
<text x="456.75" y="560.16" font-size="5.3" font-weight="bold" font-style="normal" text-anchor="middle" fill="#222">0,1 mg/L</text>
<text x="477.84" y="560.16" font-size="5.3" font-weight="bold" font-style="normal" text-anchor="middle" fill="#222">1 mg/L</text>
<path d="M436.66 442.75 V436.47 H478.09 V505.53" fill="none" stroke="#1e1e1e" stroke-width="1.2"/>
<text x="457.25" y="431.79" font-size="8" font-weight="normal" font-style="normal" text-anchor="middle" fill="#444">ns</text>
<path d="M436.66 516.82 V455.81 H457.5 V462.34" fill="none" stroke="#1e1e1e" stroke-width="1.2"/>
<text x="447.98" y="454.73" font-size="10.2" font-weight="bold" font-style="normal" text-anchor="middle" fill="#1c1c1c" class="st" letter-spacing="1.55">**</text>
</g>
<g>
<text x="572.51" y="423.17" font-size="8.8" font-weight="bold" textLength="45.45" lengthAdjust="spacingAndGlyphs" fill="#111"><tspan font-style="italic">tnfα 120</tspan><tspan font-style="normal"> hpf</tspan></text>
<text transform="translate(544.89 438.99) scale(0.97 1)" font-size="13.9" fill="#111" class="L">b</text>
<line x1="575.4" y1="479.91" x2="575.4" y2="484.94" stroke="#606060" stroke-width="0.85"/>
<line x1="572.2" y1="479.91" x2="578.6" y2="479.91" stroke="#606060" stroke-width="0.85"/>
<rect x="570" y="485.44" width="10.8" height="63.28" fill="#7f7f7f" stroke="#000" stroke-width="1.35"/>
<line x1="575.4" y1="548.71" x2="575.4" y2="553.21" stroke="#000" stroke-width="1.2"/>
<line x1="594.48" y1="476.9" x2="594.48" y2="487.45" stroke="#606060" stroke-width="0.85"/>
<line x1="591.28" y1="476.9" x2="597.68" y2="476.9" stroke="#606060" stroke-width="0.85"/>
<rect x="589.08" y="487.95" width="10.8" height="60.77" fill="#a4a4a9" stroke="#000" stroke-width="1.35"/>
<line x1="594.48" y1="548.71" x2="594.48" y2="553.21" stroke="#000" stroke-width="1.2"/>
<line x1="613.69" y1="486.94" x2="613.69" y2="492.97" stroke="#606060" stroke-width="0.85"/>
<line x1="610.49" y1="486.94" x2="616.89" y2="486.94" stroke="#606060" stroke-width="0.85"/>
<rect x="608.16" y="493.47" width="11.05" height="55.24" fill="#7f7f7f" stroke="#000" stroke-width="1.35"/>
<line x1="613.69" y1="548.71" x2="613.69" y2="553.21" stroke="#000" stroke-width="1.2"/>
<line x1="562.47" y1="452.2" x2="562.47" y2="549.31" stroke="#000" stroke-width="1.25"/>
<line x1="561.87" y1="548.71" x2="626.49" y2="548.71" stroke="#000" stroke-width="1.25"/>
<line x1="558.57" y1="548.71" x2="562.47" y2="548.71" stroke="#000" stroke-width="1.2"/>
<text x="557.77" y="551.36" font-size="7.5" font-weight="bold" font-style="normal" text-anchor="end" fill="#111">0.0</text>
<line x1="558.57" y1="516.74" x2="562.47" y2="516.74" stroke="#000" stroke-width="1.2"/>
<text x="557.77" y="519.39" font-size="7.5" font-weight="bold" font-style="normal" text-anchor="end" fill="#111">0.5</text>
<line x1="558.57" y1="484.77" x2="562.47" y2="484.77" stroke="#000" stroke-width="1.2"/>
<text x="557.77" y="487.42" font-size="7.5" font-weight="bold" font-style="normal" text-anchor="end" fill="#111">1.0</text>
<line x1="558.57" y1="452.8" x2="562.47" y2="452.8" stroke="#000" stroke-width="1.2"/>
<text x="557.77" y="455.45" font-size="7.5" font-weight="bold" font-style="normal" text-anchor="end" fill="#111">1.5</text>
<text transform="translate(543.58 500.75) rotate(-90)" font-size="6.6" text-anchor="middle" fill="#333" class="yl" letter-spacing="0.0">mRNA relative expression</text>
<text x="575.02" y="559.65" font-size="5.3" font-weight="bold" font-style="normal" text-anchor="middle" fill="#222">ctrl</text>
<text x="593.85" y="559.65" font-size="5.3" font-weight="bold" font-style="normal" text-anchor="middle" fill="#222">0,1 mg/L</text>
<text x="613.44" y="559.65" font-size="5.3" font-weight="bold" font-style="normal" text-anchor="middle" fill="#222">1 mg/L</text>
<path d="M575.02 445.76 V440.74 H613.44 V481.67" fill="none" stroke="#1e1e1e" stroke-width="1.2"/>
<text x="593.85" y="435.31" font-size="8" font-weight="normal" font-style="normal" text-anchor="middle" fill="#444">ns</text>
<path d="M575.02 472.88 V461.08 H594.61 V466.61" fill="none" stroke="#1e1e1e" stroke-width="1.2"/>
<text x="584.56" y="456.15" font-size="8" font-weight="normal" font-style="normal" text-anchor="middle" fill="#444">ns</text>
</g>
<g>
<text x="94.16" y="604.63" font-size="8.8" font-weight="bold" textLength="33.9" lengthAdjust="spacingAndGlyphs" fill="#111"><tspan font-style="italic">il4 72</tspan><tspan font-style="normal"> hpf</tspan></text>
<text transform="translate(55.49 624.72) scale(0.86 1)" font-size="13.9" fill="#111" class="L">a</text>
<text transform="translate(7.28 624.72) scale(0.89 1)" font-size="14.2" fill="#111" class="L">G</text>
<line x1="90.52" y1="722.39" x2="90.52" y2="723.65" stroke="#606060" stroke-width="0.85"/>
<line x1="87.32" y1="722.39" x2="93.72" y2="722.39" stroke="#606060" stroke-width="0.85"/>
<rect x="84.62" y="724.15" width="11.81" height="8.54" fill="#7f7f7f" stroke="#000" stroke-width="1.35"/>
<line x1="90.52" y1="732.69" x2="90.52" y2="737.19" stroke="#000" stroke-width="1.2"/>
<line x1="111.11" y1="714.36" x2="111.11" y2="717.37" stroke="#606060" stroke-width="0.85"/>
<line x1="107.91" y1="714.36" x2="114.31" y2="714.36" stroke="#606060" stroke-width="0.85"/>
<rect x="105.21" y="717.87" width="11.81" height="14.82" fill="#a4a4a9" stroke="#000" stroke-width="1.35"/>
<line x1="111.11" y1="732.69" x2="111.11" y2="737.19" stroke="#000" stroke-width="1.2"/>
<line x1="131.57" y1="650.83" x2="131.57" y2="656.35" stroke="#606060" stroke-width="0.85"/>
<line x1="128.37" y1="650.83" x2="134.77" y2="650.83" stroke="#606060" stroke-width="0.85"/>
<rect x="125.55" y="656.85" width="12.06" height="75.83" fill="#7f7f7f" stroke="#000" stroke-width="1.35"/>
<line x1="131.57" y1="732.69" x2="131.57" y2="737.19" stroke="#000" stroke-width="1.2"/>
<line x1="76.58" y1="636.42" x2="76.58" y2="733.29" stroke="#000" stroke-width="1.25"/>
<line x1="75.98" y1="732.69" x2="145.64" y2="732.69" stroke="#000" stroke-width="1.25"/>
<line x1="72.68" y1="732.69" x2="76.58" y2="732.69" stroke="#000" stroke-width="1.2"/>
<text x="71.88" y="735.34" font-size="7.5" font-weight="bold" font-style="normal" text-anchor="end" fill="#111">0</text>
<line x1="72.68" y1="713.55" x2="76.58" y2="713.55" stroke="#000" stroke-width="1.2"/>
<text x="71.88" y="716.2" font-size="7.5" font-weight="bold" font-style="normal" text-anchor="end" fill="#111">2</text>
<line x1="72.68" y1="694.42" x2="76.58" y2="694.42" stroke="#000" stroke-width="1.2"/>
<text x="71.88" y="697.07" font-size="7.5" font-weight="bold" font-style="normal" text-anchor="end" fill="#111">4</text>
<line x1="72.68" y1="675.29" x2="76.58" y2="675.29" stroke="#000" stroke-width="1.2"/>
<text x="71.88" y="677.94" font-size="7.5" font-weight="bold" font-style="normal" text-anchor="end" fill="#111">6</text>
<line x1="72.68" y1="656.15" x2="76.58" y2="656.15" stroke="#000" stroke-width="1.2"/>
<text x="71.88" y="658.8" font-size="7.5" font-weight="bold" font-style="normal" text-anchor="end" fill="#111">8</text>
<line x1="72.68" y1="637.02" x2="76.58" y2="637.02" stroke="#000" stroke-width="1.2"/>
<text x="71.88" y="639.67" font-size="7.5" font-weight="bold" font-style="normal" text-anchor="end" fill="#111">10</text>
<text transform="translate(59.45 685.48) rotate(-90)" font-size="6.6" text-anchor="middle" fill="#333" class="yl" letter-spacing="0.0">mRNA relative expression</text>
<text x="89.89" y="743.12" font-size="5.3" font-weight="bold" font-style="normal" text-anchor="middle" fill="#222">ctrl</text>
<text x="110.73" y="743.12" font-size="5.3" font-weight="bold" font-style="normal" text-anchor="middle" fill="#222">0,1 mg/L</text>
<text x="131.32" y="743.12" font-size="5.3" font-weight="bold" font-style="normal" text-anchor="middle" fill="#222">1 mg/L</text>
<path d="M89.89 634.01 V618.94 H131.32 V645.31" fill="none" stroke="#1e1e1e" stroke-width="1.2"/>
<text x="111.51" y="618.37" font-size="10.2" font-weight="bold" font-style="normal" text-anchor="middle" fill="#1c1c1c" class="st" letter-spacing="1.55">****</text>
<path d="M89.89 718.12 V639.78 H110.73 V710.59" fill="none" stroke="#1e1e1e" stroke-width="1.2"/>
<text x="100.44" y="635.35" font-size="8" font-weight="normal" font-style="normal" text-anchor="middle" fill="#444">ns</text>
</g>
<g>
<text x="223.47" y="615.18" font-size="8.8" font-weight="bold" textLength="37.66" lengthAdjust="spacingAndGlyphs" fill="#111"><tspan font-style="italic">il4 120</tspan><tspan font-style="normal"> hpf</tspan></text>
<text transform="translate(184.3 626.98) scale(0.97 1)" font-size="13.9" fill="#111" class="L">b</text>
<line x1="223.1" y1="679.2" x2="223.1" y2="684.73" stroke="#606060" stroke-width="0.85"/>
<line x1="219.9" y1="679.2" x2="226.3" y2="679.2" stroke="#606060" stroke-width="0.85"/>
<rect x="217.7" y="685.23" width="10.8" height="47.46" fill="#7f7f7f" stroke="#000" stroke-width="1.35"/>
<line x1="223.1" y1="732.69" x2="223.1" y2="737.19" stroke="#000" stroke-width="1.2"/>
<line x1="242.31" y1="663.89" x2="242.31" y2="673.43" stroke="#606060" stroke-width="0.85"/>
<line x1="239.11" y1="663.89" x2="245.51" y2="663.89" stroke="#606060" stroke-width="0.85"/>
<rect x="236.78" y="673.93" width="11.05" height="58.76" fill="#a4a4a9" stroke="#000" stroke-width="1.35"/>
<line x1="242.31" y1="732.69" x2="242.31" y2="737.19" stroke="#000" stroke-width="1.2"/>
<line x1="261.52" y1="672.42" x2="261.52" y2="681.72" stroke="#606060" stroke-width="0.85"/>
<line x1="258.32" y1="672.42" x2="264.72" y2="672.42" stroke="#606060" stroke-width="0.85"/>
<rect x="255.86" y="682.22" width="11.3" height="50.47" fill="#7f7f7f" stroke="#000" stroke-width="1.35"/>
<line x1="261.52" y1="732.69" x2="261.52" y2="737.19" stroke="#000" stroke-width="1.2"/>
<line x1="210.17" y1="636.42" x2="210.17" y2="733.29" stroke="#000" stroke-width="1.25"/>
<line x1="209.57" y1="732.69" x2="274.45" y2="732.69" stroke="#000" stroke-width="1.25"/>
<line x1="206.27" y1="732.69" x2="210.17" y2="732.69" stroke="#000" stroke-width="1.2"/>
<text x="205.47" y="735.34" font-size="7.5" font-weight="bold" font-style="normal" text-anchor="end" fill="#111">0.0</text>
<line x1="206.27" y1="708.77" x2="210.17" y2="708.77" stroke="#000" stroke-width="1.2"/>
<text x="205.47" y="711.42" font-size="7.5" font-weight="bold" font-style="normal" text-anchor="end" fill="#111">0.5</text>
<line x1="206.27" y1="684.85" x2="210.17" y2="684.85" stroke="#000" stroke-width="1.2"/>
<text x="205.47" y="687.5" font-size="7.5" font-weight="bold" font-style="normal" text-anchor="end" fill="#111">1.0</text>
<line x1="206.27" y1="660.94" x2="210.17" y2="660.94" stroke="#000" stroke-width="1.2"/>
<text x="205.47" y="663.59" font-size="7.5" font-weight="bold" font-style="normal" text-anchor="end" fill="#111">1.5</text>
<line x1="206.27" y1="637.02" x2="210.17" y2="637.02" stroke="#000" stroke-width="1.2"/>
<text x="205.47" y="639.67" font-size="7.5" font-weight="bold" font-style="normal" text-anchor="end" fill="#111">2.0</text>
<text transform="translate(190.78 685.48) rotate(-90)" font-size="6.6" text-anchor="middle" fill="#333" class="yl" letter-spacing="0.0">mRNA relative expression</text>
<text x="222.97" y="743.88" font-size="5.3" font-weight="bold" font-style="normal" text-anchor="middle" fill="#222">ctrl</text>
<text x="241.8" y="743.88" font-size="5.3" font-weight="bold" font-style="normal" text-anchor="middle" fill="#222">0,1 mg/L</text>
<text x="261.14" y="743.88" font-size="5.3" font-weight="bold" font-style="normal" text-anchor="middle" fill="#222">1 mg/L</text>
<path d="M222.97 637.77 V632.25 H261.39 V667.91" fill="none" stroke="#1e1e1e" stroke-width="1.2"/>
<text x="242.06" y="627.32" font-size="8" font-weight="normal" font-style="normal" text-anchor="middle" fill="#444">ns</text>
<path d="M222.97 674.18 V652.84 H242.31 V659.12" fill="none" stroke="#1e1e1e" stroke-width="1.2"/>
<text x="232.26" y="648.16" font-size="8" font-weight="normal" font-style="normal" text-anchor="middle" fill="#444">ns</text>
</g>
<g>
<text x="437.16" y="606.39" font-size="8.8" font-weight="bold" textLength="38.42" lengthAdjust="spacingAndGlyphs" fill="#111"><tspan font-style="italic">il13 72</tspan><tspan font-style="normal"> hpf</tspan></text>
<text transform="translate(416.32 624.72) scale(0.86 1)" font-size="13.9" fill="#111" class="L">a</text>
<text transform="translate(370.87 624.21) scale(1 1)" font-size="14.2" fill="#111" class="L">H</text>
<line x1="437.16" y1="678.7" x2="437.16" y2="684.73" stroke="#606060" stroke-width="0.85"/>
<line x1="433.96" y1="678.7" x2="440.36" y2="678.7" stroke="#606060" stroke-width="0.85"/>
<rect x="431.13" y="685.23" width="12.06" height="47.46" fill="#7f7f7f" stroke="#000" stroke-width="1.35"/>
<line x1="437.16" y1="732.69" x2="437.16" y2="737.19" stroke="#000" stroke-width="1.2"/>
<line x1="457.62" y1="675.44" x2="457.62" y2="678.95" stroke="#606060" stroke-width="0.85"/>
<line x1="454.42" y1="675.44" x2="460.82" y2="675.44" stroke="#606060" stroke-width="0.85"/>
<rect x="451.72" y="679.45" width="11.81" height="53.23" fill="#a4a4a9" stroke="#000" stroke-width="1.35"/>
<line x1="457.62" y1="732.69" x2="457.62" y2="737.19" stroke="#000" stroke-width="1.2"/>
<line x1="478.09" y1="654.35" x2="478.09" y2="669.16" stroke="#606060" stroke-width="0.85"/>
<line x1="474.89" y1="654.35" x2="481.29" y2="654.35" stroke="#606060" stroke-width="0.85"/>
<rect x="472.06" y="669.66" width="12.06" height="63.03" fill="#7f7f7f" stroke="#000" stroke-width="1.35"/>
<line x1="478.09" y1="732.69" x2="478.09" y2="737.19" stroke="#000" stroke-width="1.2"/>
<line x1="423.35" y1="636.42" x2="423.35" y2="733.29" stroke="#000" stroke-width="1.25"/>
<line x1="422.75" y1="732.69" x2="492.4" y2="732.69" stroke="#000" stroke-width="1.25"/>
<line x1="419.45" y1="732.69" x2="423.35" y2="732.69" stroke="#000" stroke-width="1.2"/>
<text x="418.65" y="735.34" font-size="7.5" font-weight="bold" font-style="normal" text-anchor="end" fill="#111">0.0</text>
<line x1="419.45" y1="708.77" x2="423.35" y2="708.77" stroke="#000" stroke-width="1.2"/>
<text x="418.65" y="711.42" font-size="7.5" font-weight="bold" font-style="normal" text-anchor="end" fill="#111">0.5</text>
<line x1="419.45" y1="684.85" x2="423.35" y2="684.85" stroke="#000" stroke-width="1.2"/>
<text x="418.65" y="687.5" font-size="7.5" font-weight="bold" font-style="normal" text-anchor="end" fill="#111">1.0</text>
<line x1="419.45" y1="660.94" x2="423.35" y2="660.94" stroke="#000" stroke-width="1.2"/>
<text x="418.65" y="663.59" font-size="7.5" font-weight="bold" font-style="normal" text-anchor="end" fill="#111">1.5</text>
<line x1="419.45" y1="637.02" x2="423.35" y2="637.02" stroke="#000" stroke-width="1.2"/>
<text x="418.65" y="639.67" font-size="7.5" font-weight="bold" font-style="normal" text-anchor="end" fill="#111">2.0</text>
<text transform="translate(403.71 685.48) rotate(-90)" font-size="6.6" text-anchor="middle" fill="#333" class="yl" letter-spacing="0.0">mRNA relative expression</text>
<text x="436.66" y="743.12" font-size="5.3" font-weight="bold" font-style="normal" text-anchor="middle" fill="#222">ctrl</text>
<text x="456.75" y="743.12" font-size="5.3" font-weight="bold" font-style="normal" text-anchor="middle" fill="#222">0,1 mg/L</text>
<text x="477.84" y="743.12" font-size="5.3" font-weight="bold" font-style="normal" text-anchor="middle" fill="#222">1 mg/L</text>
<path d="M436.66 636.52 V621.95 H478.09 V649.07" fill="none" stroke="#1e1e1e" stroke-width="1.2"/>
<text x="457.25" y="617.28" font-size="8" font-weight="normal" font-style="normal" text-anchor="middle" fill="#444">ns</text>
<path d="M436.66 674.18 V642.8 H457.5 V671.67" fill="none" stroke="#1e1e1e" stroke-width="1.2"/>
<text x="447.2" y="638.12" font-size="8" font-weight="normal" font-style="normal" text-anchor="middle" fill="#444">ns</text>
</g>
<g>
<text x="574.52" y="612.41" font-size="8.8" font-weight="bold" textLength="42.69" lengthAdjust="spacingAndGlyphs" fill="#111"><tspan font-style="italic">il13 120</tspan><tspan font-style="normal"> hpf</tspan></text>
<text transform="translate(544.89 626.98) scale(0.97 1)" font-size="13.9" fill="#111" class="L">b</text>
<line x1="575.4" y1="682.47" x2="575.4" y2="684.98" stroke="#606060" stroke-width="0.85"/>
<line x1="572.2" y1="682.47" x2="578.6" y2="682.47" stroke="#606060" stroke-width="0.85"/>
<rect x="570" y="685.48" width="10.8" height="47.21" fill="#7f7f7f" stroke="#000" stroke-width="1.35"/>
<line x1="575.4" y1="732.69" x2="575.4" y2="737.19" stroke="#000" stroke-width="1.2"/>
<line x1="594.48" y1="689" x2="594.48" y2="693.77" stroke="#606060" stroke-width="0.85"/>
<line x1="591.28" y1="689" x2="597.68" y2="689" stroke="#606060" stroke-width="0.85"/>
<rect x="589.08" y="694.27" width="10.8" height="38.42" fill="#a4a4a9" stroke="#000" stroke-width="1.35"/>
<line x1="594.48" y1="732.69" x2="594.48" y2="737.19" stroke="#000" stroke-width="1.2"/>
<line x1="613.69" y1="657.86" x2="613.69" y2="678.2" stroke="#606060" stroke-width="0.85"/>
<line x1="610.49" y1="657.86" x2="616.89" y2="657.86" stroke="#606060" stroke-width="0.85"/>
<rect x="608.16" y="678.7" width="11.05" height="53.99" fill="#7f7f7f" stroke="#000" stroke-width="1.35"/>
<line x1="613.69" y1="732.69" x2="613.69" y2="737.19" stroke="#000" stroke-width="1.2"/>
<line x1="562.47" y1="636.42" x2="562.47" y2="733.29" stroke="#000" stroke-width="1.25"/>
<line x1="561.87" y1="732.69" x2="626.49" y2="732.69" stroke="#000" stroke-width="1.25"/>
<line x1="558.57" y1="732.69" x2="562.47" y2="732.69" stroke="#000" stroke-width="1.2"/>
<text x="557.77" y="735.34" font-size="7.5" font-weight="bold" font-style="normal" text-anchor="end" fill="#111">0.0</text>
<line x1="558.57" y1="708.77" x2="562.47" y2="708.77" stroke="#000" stroke-width="1.2"/>
<text x="557.77" y="711.42" font-size="7.5" font-weight="bold" font-style="normal" text-anchor="end" fill="#111">0.5</text>
<line x1="558.57" y1="684.85" x2="562.47" y2="684.85" stroke="#000" stroke-width="1.2"/>
<text x="557.77" y="687.5" font-size="7.5" font-weight="bold" font-style="normal" text-anchor="end" fill="#111">1.0</text>
<line x1="558.57" y1="660.94" x2="562.47" y2="660.94" stroke="#000" stroke-width="1.2"/>
<text x="557.77" y="663.59" font-size="7.5" font-weight="bold" font-style="normal" text-anchor="end" fill="#111">1.5</text>
<line x1="558.57" y1="637.02" x2="562.47" y2="637.02" stroke="#000" stroke-width="1.2"/>
<text x="557.77" y="639.67" font-size="7.5" font-weight="bold" font-style="normal" text-anchor="end" fill="#111">2.0</text>
<text transform="translate(543.58 685.48) rotate(-90)" font-size="6.6" text-anchor="middle" fill="#333" class="yl" letter-spacing="0.0">mRNA relative expression</text>
<text x="575.02" y="743.12" font-size="5.3" font-weight="bold" font-style="normal" text-anchor="middle" fill="#222">ctrl</text>
<text x="593.85" y="743.12" font-size="5.3" font-weight="bold" font-style="normal" text-anchor="middle" fill="#222">0,1 mg/L</text>
<text x="613.44" y="743.12" font-size="5.3" font-weight="bold" font-style="normal" text-anchor="middle" fill="#222">1 mg/L</text>
<path d="M575.02 631.5 V625.97 H613.44 V652.34" fill="none" stroke="#1e1e1e" stroke-width="1.2"/>
<text x="593.85" y="621.54" font-size="8" font-weight="normal" font-style="normal" text-anchor="middle" fill="#444">ns</text>
<path d="M575.02 677.95 V646.81 H594.61 V684.23" fill="none" stroke="#1e1e1e" stroke-width="1.2"/>
<text x="584.56" y="641.88" font-size="8" font-weight="normal" font-style="normal" text-anchor="middle" fill="#444">ns</text>
</g>
<g>
<text x="91.15" y="800.18" font-size="8.8" font-weight="bold" textLength="39.42" lengthAdjust="spacingAndGlyphs" fill="#111"><tspan font-style="italic">infγ 72</tspan><tspan font-style="normal"> hpf</tspan></text>
<text transform="translate(55.49 810.97) scale(0.86 1)" font-size="13.9" fill="#111" class="L">a</text>
<text transform="translate(12.81 809.72) scale(1 1)" font-size="14.2" fill="#111" class="L">I</text>
<line x1="90.52" y1="918.69" x2="90.52" y2="919.95" stroke="#606060" stroke-width="0.85"/>
<line x1="87.32" y1="918.69" x2="93.72" y2="918.69" stroke="#606060" stroke-width="0.85"/>
<rect x="84.62" y="920.45" width="11.81" height="8.54" fill="#7f7f7f" stroke="#000" stroke-width="1.35"/>
<line x1="90.52" y1="928.99" x2="90.52" y2="933.49" stroke="#000" stroke-width="1.2"/>
<line x1="111.11" y1="901.37" x2="111.11" y2="904.38" stroke="#606060" stroke-width="0.85"/>
<line x1="107.91" y1="901.37" x2="114.31" y2="901.37" stroke="#606060" stroke-width="0.85"/>
<rect x="105.21" y="904.88" width="11.81" height="24.11" fill="#a4a4a9" stroke="#000" stroke-width="1.35"/>
<line x1="111.11" y1="928.99" x2="111.11" y2="933.49" stroke="#000" stroke-width="1.2"/>
<line x1="131.57" y1="851.65" x2="131.57" y2="862.45" stroke="#606060" stroke-width="0.85"/>
<line x1="128.37" y1="851.65" x2="134.77" y2="851.65" stroke="#606060" stroke-width="0.85"/>
<rect x="125.55" y="862.95" width="12.06" height="66.04" fill="#7f7f7f" stroke="#000" stroke-width="1.35"/>
<line x1="131.57" y1="928.99" x2="131.57" y2="933.49" stroke="#000" stroke-width="1.2"/>
<line x1="76.58" y1="832.97" x2="76.58" y2="929.59" stroke="#000" stroke-width="1.25"/>
<line x1="75.98" y1="928.99" x2="145.64" y2="928.99" stroke="#000" stroke-width="1.25"/>
<line x1="72.68" y1="928.99" x2="76.58" y2="928.99" stroke="#000" stroke-width="1.2"/>
<text x="71.88" y="931.64" font-size="7.5" font-weight="bold" font-style="normal" text-anchor="end" fill="#111">0</text>
<line x1="72.68" y1="909.9" x2="76.58" y2="909.9" stroke="#000" stroke-width="1.2"/>
<text x="71.88" y="912.55" font-size="7.5" font-weight="bold" font-style="normal" text-anchor="end" fill="#111">2</text>
<line x1="72.68" y1="890.82" x2="76.58" y2="890.82" stroke="#000" stroke-width="1.2"/>
<text x="71.88" y="893.47" font-size="7.5" font-weight="bold" font-style="normal" text-anchor="end" fill="#111">4</text>
<line x1="72.68" y1="871.74" x2="76.58" y2="871.74" stroke="#000" stroke-width="1.2"/>
<text x="71.88" y="874.39" font-size="7.5" font-weight="bold" font-style="normal" text-anchor="end" fill="#111">6</text>
<line x1="72.68" y1="852.65" x2="76.58" y2="852.65" stroke="#000" stroke-width="1.2"/>
<text x="71.88" y="855.3" font-size="7.5" font-weight="bold" font-style="normal" text-anchor="end" fill="#111">8</text>
<line x1="72.68" y1="833.57" x2="76.58" y2="833.57" stroke="#000" stroke-width="1.2"/>
<text x="71.88" y="836.22" font-size="7.5" font-weight="bold" font-style="normal" text-anchor="end" fill="#111">10</text>
<text transform="translate(59.45 881.78) rotate(-90)" font-size="6.6" text-anchor="middle" fill="#333" class="yl" letter-spacing="0.0">mRNA relative expression</text>
<text x="89.89" y="939.68" font-size="5.3" font-weight="bold" font-style="normal" text-anchor="middle" fill="#222">ctrl</text>
<text x="110.73" y="939.68" font-size="5.3" font-weight="bold" font-style="normal" text-anchor="middle" fill="#222">0,1 mg/L</text>
<text x="131.32" y="939.68" font-size="5.3" font-weight="bold" font-style="normal" text-anchor="middle" fill="#222">1 mg/L</text>
<path d="M89.89 834.07 V819.26 H131.32 V846.63" fill="none" stroke="#1e1e1e" stroke-width="1.2"/>
<text x="111.51" y="818.43" font-size="10.2" font-weight="bold" font-style="normal" text-anchor="middle" fill="#1c1c1c" class="st" letter-spacing="1.55">**</text>
<path d="M89.89 914.42 V840.35 H110.73 V896.85" fill="none" stroke="#1e1e1e" stroke-width="1.2"/>
<text x="100.44" y="835.67" font-size="8" font-weight="normal" font-style="normal" text-anchor="middle" fill="#444">ns</text>
</g>
<g>
<text x="221.72" y="796.41" font-size="8.8" font-weight="bold" textLength="43.69" lengthAdjust="spacingAndGlyphs" fill="#111"><tspan font-style="italic">infγ 120</tspan><tspan font-style="normal"> hpf</tspan></text>
<text transform="translate(184.3 811.98) scale(0.97 1)" font-size="13.9" fill="#111" class="L">b</text>
<line x1="223.1" y1="872.24" x2="223.1" y2="880.53" stroke="#606060" stroke-width="0.85"/>
<line x1="219.9" y1="872.24" x2="226.3" y2="872.24" stroke="#606060" stroke-width="0.85"/>
<rect x="217.7" y="881.03" width="10.8" height="47.96" fill="#7f7f7f" stroke="#000" stroke-width="1.35"/>
<line x1="223.1" y1="928.99" x2="223.1" y2="933.49" stroke="#000" stroke-width="1.2"/>
<line x1="242.31" y1="847.13" x2="242.31" y2="860.44" stroke="#606060" stroke-width="0.85"/>
<line x1="239.11" y1="847.13" x2="245.51" y2="847.13" stroke="#606060" stroke-width="0.85"/>
<rect x="236.78" y="860.94" width="11.05" height="68.05" fill="#a4a4a9" stroke="#000" stroke-width="1.35"/>
<line x1="242.31" y1="928.99" x2="242.31" y2="933.49" stroke="#000" stroke-width="1.2"/>
<line x1="261.52" y1="864.2" x2="261.52" y2="873.75" stroke="#606060" stroke-width="0.85"/>
<line x1="258.32" y1="864.2" x2="264.72" y2="864.2" stroke="#606060" stroke-width="0.85"/>
<rect x="255.86" y="874.25" width="11.3" height="54.74" fill="#7f7f7f" stroke="#000" stroke-width="1.35"/>
<line x1="261.52" y1="928.99" x2="261.52" y2="933.49" stroke="#000" stroke-width="1.2"/>
<line x1="210.17" y1="832.97" x2="210.17" y2="929.59" stroke="#000" stroke-width="1.25"/>
<line x1="209.57" y1="928.99" x2="274.45" y2="928.99" stroke="#000" stroke-width="1.25"/>
<line x1="206.27" y1="928.99" x2="210.17" y2="928.99" stroke="#000" stroke-width="1.2"/>
<text x="205.47" y="931.64" font-size="7.5" font-weight="bold" font-style="normal" text-anchor="end" fill="#111">0.0</text>
<line x1="206.27" y1="905.13" x2="210.17" y2="905.13" stroke="#000" stroke-width="1.2"/>
<text x="205.47" y="907.78" font-size="7.5" font-weight="bold" font-style="normal" text-anchor="end" fill="#111">0.5</text>
<line x1="206.27" y1="881.28" x2="210.17" y2="881.28" stroke="#000" stroke-width="1.2"/>
<text x="205.47" y="883.93" font-size="7.5" font-weight="bold" font-style="normal" text-anchor="end" fill="#111">1.0</text>
<line x1="206.27" y1="857.42" x2="210.17" y2="857.42" stroke="#000" stroke-width="1.2"/>
<text x="205.47" y="860.07" font-size="7.5" font-weight="bold" font-style="normal" text-anchor="end" fill="#111">1.5</text>
<line x1="206.27" y1="833.57" x2="210.17" y2="833.57" stroke="#000" stroke-width="1.2"/>
<text x="205.47" y="836.22" font-size="7.5" font-weight="bold" font-style="normal" text-anchor="end" fill="#111">2.0</text>
<text transform="translate(190.78 881.78) rotate(-90)" font-size="6.6" text-anchor="middle" fill="#333" class="yl" letter-spacing="0.0">mRNA relative expression</text>
<text x="222.97" y="939.68" font-size="5.3" font-weight="bold" font-style="normal" text-anchor="middle" fill="#222">ctrl</text>
<text x="241.8" y="939.68" font-size="5.3" font-weight="bold" font-style="normal" text-anchor="middle" fill="#222">0,1 mg/L</text>
<text x="261.14" y="939.68" font-size="5.3" font-weight="bold" font-style="normal" text-anchor="middle" fill="#222">1 mg/L</text>
<path d="M222.97 820.76 V815.24 H261.39 V858.18" fill="none" stroke="#1e1e1e" stroke-width="1.2"/>
<text x="242.06" y="810.06" font-size="8" font-weight="normal" font-style="normal" text-anchor="middle" fill="#444">ns</text>
<path d="M222.97 866.72 V835.33 H242.31 V841.61" fill="none" stroke="#1e1e1e" stroke-width="1.2"/>
<text x="232.26" y="830.65" font-size="8" font-weight="normal" font-style="normal" text-anchor="middle" fill="#444">ns</text>
</g>
<g>
<text x="428.87" y="793.9" font-size="8.8" font-weight="bold" textLength="45.2" lengthAdjust="spacingAndGlyphs" fill="#111"><tspan font-style="italic">tbx21 72</tspan><tspan font-style="normal"> hpf</tspan></text>
<text transform="translate(416.32 809.47) scale(0.86 1)" font-size="13.9" fill="#111" class="L">a</text>
<text transform="translate(373.88 812.23) scale(0.6 1)" font-size="14.2" fill="#111" class="L">J</text>
<line x1="437.16" y1="915.68" x2="437.16" y2="918.19" stroke="#606060" stroke-width="0.85"/>
<line x1="433.96" y1="915.68" x2="440.36" y2="915.68" stroke="#606060" stroke-width="0.85"/>
<rect x="431.13" y="918.69" width="12.06" height="9.54" fill="#7f7f7f" stroke="#000" stroke-width="1.35"/>
<line x1="437.16" y1="928.23" x2="437.16" y2="932.73" stroke="#000" stroke-width="1.2"/>
<line x1="457.62" y1="870.48" x2="457.62" y2="881.78" stroke="#606060" stroke-width="0.85"/>
<line x1="454.42" y1="870.48" x2="460.82" y2="870.48" stroke="#606060" stroke-width="0.85"/>
<rect x="451.72" y="882.28" width="11.81" height="45.95" fill="#a4a4a9" stroke="#000" stroke-width="1.35"/>
<line x1="457.62" y1="928.23" x2="457.62" y2="932.73" stroke="#000" stroke-width="1.2"/>
<line x1="478.09" y1="840.35" x2="478.09" y2="842.36" stroke="#606060" stroke-width="0.85"/>
<line x1="474.89" y1="840.35" x2="481.29" y2="840.35" stroke="#606060" stroke-width="0.85"/>
<rect x="472.06" y="842.86" width="12.06" height="85.37" fill="#7f7f7f" stroke="#000" stroke-width="1.35"/>
<line x1="478.09" y1="928.23" x2="478.09" y2="932.73" stroke="#000" stroke-width="1.2"/>
<line x1="423.35" y1="831.72" x2="423.35" y2="928.83" stroke="#000" stroke-width="1.25"/>
<line x1="422.75" y1="928.23" x2="492.4" y2="928.23" stroke="#000" stroke-width="1.25"/>
<line x1="419.45" y1="928.23" x2="423.35" y2="928.23" stroke="#000" stroke-width="1.2"/>
<text x="418.65" y="930.88" font-size="7.5" font-weight="bold" font-style="normal" text-anchor="end" fill="#111">0</text>
<line x1="419.45" y1="909.05" x2="423.35" y2="909.05" stroke="#000" stroke-width="1.2"/>
<text x="418.65" y="911.7" font-size="7.5" font-weight="bold" font-style="normal" text-anchor="end" fill="#111">2</text>
<line x1="419.45" y1="889.87" x2="423.35" y2="889.87" stroke="#000" stroke-width="1.2"/>
<text x="418.65" y="892.52" font-size="7.5" font-weight="bold" font-style="normal" text-anchor="end" fill="#111">4</text>
<line x1="419.45" y1="870.68" x2="423.35" y2="870.68" stroke="#000" stroke-width="1.2"/>
<text x="418.65" y="873.33" font-size="7.5" font-weight="bold" font-style="normal" text-anchor="end" fill="#111">6</text>
<line x1="419.45" y1="851.5" x2="423.35" y2="851.5" stroke="#000" stroke-width="1.2"/>
<text x="418.65" y="854.15" font-size="7.5" font-weight="bold" font-style="normal" text-anchor="end" fill="#111">8</text>
<line x1="419.45" y1="832.32" x2="423.35" y2="832.32" stroke="#000" stroke-width="1.2"/>
<text x="418.65" y="834.97" font-size="7.5" font-weight="bold" font-style="normal" text-anchor="end" fill="#111">10</text>
<text transform="translate(405.22 880.78) rotate(-90)" font-size="6.6" text-anchor="middle" fill="#333" class="yl" letter-spacing="0.0">mRNA relative expression</text>
<text x="436.66" y="938.92" font-size="5.3" font-weight="bold" font-style="normal" text-anchor="middle" fill="#222">ctrl</text>
<text x="456.75" y="938.92" font-size="5.3" font-weight="bold" font-style="normal" text-anchor="middle" fill="#222">0,1 mg/L</text>
<text x="477.84" y="938.92" font-size="5.3" font-weight="bold" font-style="normal" text-anchor="middle" fill="#222">1 mg/L</text>
<path d="M436.66 815.24 V809.72 H478.09 V834.07" fill="none" stroke="#1e1e1e" stroke-width="1.2"/>
<text x="458.02" y="809.14" font-size="10.2" font-weight="bold" font-style="normal" text-anchor="middle" fill="#1c1c1c" class="st" letter-spacing="1.55">***</text>
<path d="M436.66 910.66 V829.05 H457.5 V864.2" fill="none" stroke="#1e1e1e" stroke-width="1.2"/>
<text x="447.98" y="827.98" font-size="10.2" font-weight="bold" font-style="normal" text-anchor="middle" fill="#1c1c1c" class="st" letter-spacing="1.55">**</text>
</g>
<g>
<text x="570.25" y="799.67" font-size="8.8" font-weight="bold" textLength="50.22" lengthAdjust="spacingAndGlyphs" fill="#111"><tspan font-style="italic">tbx21 120</tspan><tspan font-style="normal"> hpf</tspan></text>
<text transform="translate(544.89 810.97) scale(0.97 1)" font-size="13.9" fill="#111" class="L">b</text>
<line x1="575.4" y1="902.12" x2="575.4" y2="904.38" stroke="#606060" stroke-width="0.85"/>
<line x1="572.2" y1="902.12" x2="578.6" y2="902.12" stroke="#606060" stroke-width="0.85"/>
<rect x="570" y="904.88" width="10.8" height="23.35" fill="#7f7f7f" stroke="#000" stroke-width="1.35"/>
<line x1="575.4" y1="928.23" x2="575.4" y2="932.73" stroke="#000" stroke-width="1.2"/>
<line x1="594.48" y1="856.67" x2="594.48" y2="868.22" stroke="#606060" stroke-width="0.85"/>
<line x1="591.28" y1="856.67" x2="597.68" y2="856.67" stroke="#606060" stroke-width="0.85"/>
<rect x="589.08" y="868.72" width="10.8" height="59.51" fill="#a4a4a9" stroke="#000" stroke-width="1.35"/>
<line x1="594.48" y1="928.23" x2="594.48" y2="932.73" stroke="#000" stroke-width="1.2"/>
<line x1="613.69" y1="845.37" x2="613.69" y2="852.91" stroke="#606060" stroke-width="0.85"/>
<line x1="610.49" y1="845.37" x2="616.89" y2="845.37" stroke="#606060" stroke-width="0.85"/>
<rect x="608.16" y="853.41" width="11.05" height="74.83" fill="#7f7f7f" stroke="#000" stroke-width="1.35"/>
<line x1="613.69" y1="928.23" x2="613.69" y2="932.73" stroke="#000" stroke-width="1.2"/>
<line x1="562.47" y1="831.72" x2="562.47" y2="928.83" stroke="#000" stroke-width="1.25"/>
<line x1="561.87" y1="928.23" x2="626.49" y2="928.23" stroke="#000" stroke-width="1.25"/>
<line x1="558.57" y1="928.23" x2="562.47" y2="928.23" stroke="#000" stroke-width="1.2"/>
<text x="557.77" y="930.88" font-size="7.5" font-weight="bold" font-style="normal" text-anchor="end" fill="#111">0</text>
<line x1="558.57" y1="904.25" x2="562.47" y2="904.25" stroke="#000" stroke-width="1.2"/>
<text x="557.77" y="906.9" font-size="7.5" font-weight="bold" font-style="normal" text-anchor="end" fill="#111">1</text>
<line x1="558.57" y1="880.27" x2="562.47" y2="880.27" stroke="#000" stroke-width="1.2"/>
<text x="557.77" y="882.92" font-size="7.5" font-weight="bold" font-style="normal" text-anchor="end" fill="#111">2</text>
<line x1="558.57" y1="856.29" x2="562.47" y2="856.29" stroke="#000" stroke-width="1.2"/>
<text x="557.77" y="858.94" font-size="7.5" font-weight="bold" font-style="normal" text-anchor="end" fill="#111">3</text>
<line x1="558.57" y1="832.32" x2="562.47" y2="832.32" stroke="#000" stroke-width="1.2"/>
<text x="557.77" y="834.97" font-size="7.5" font-weight="bold" font-style="normal" text-anchor="end" fill="#111">4</text>
<text transform="translate(548.6 880.78) rotate(-90)" font-size="6.6" text-anchor="middle" fill="#333" class="yl" letter-spacing="0.0">mRNA relative expression</text>
<text x="575.02" y="937.67" font-size="5.3" font-weight="bold" font-style="normal" text-anchor="middle" fill="#222">ctrl</text>
<text x="593.85" y="937.67" font-size="5.3" font-weight="bold" font-style="normal" text-anchor="middle" fill="#222">0,1 mg/L</text>
<text x="613.44" y="937.67" font-size="5.3" font-weight="bold" font-style="normal" text-anchor="middle" fill="#222">1 mg/L</text>
<path d="M575.02 827.8 V815.24 H613.44 V840.35" fill="none" stroke="#1e1e1e" stroke-width="1.2"/>
<text x="594.63" y="814.17" font-size="10.2" font-weight="bold" font-style="normal" text-anchor="middle" fill="#1c1c1c" class="st" letter-spacing="1.55">**</text>
<path d="M575.02 896.85 V833.57 H594.61 V851.65" fill="none" stroke="#1e1e1e" stroke-width="1.2"/>
<text x="585.34" y="832.5" font-size="10.2" font-weight="bold" font-style="normal" text-anchor="middle" fill="#1c1c1c" class="st" letter-spacing="1.55">*</text>
</g>
<line x1="479.4" y1="790.4" x2="479.4" y2="795.4" stroke="#8a8a8a" stroke-width="0.6"/>
<circle cx="261.2" cy="242.2" r="0.45" fill="#999"/>
<circle cx="611.8" cy="429" r="0.45" fill="#999"/>
<path d="M575.1 244.6 V231.4 H616.5 V309" fill="none" stroke="#1e1e1e" stroke-width="1.2"/>
<path d="M575.1 289.9 V250.2 H616.5" fill="none" stroke="#1e1e1e" stroke-width="1.2"/>
<path d="M596 250.2 V255.5" fill="none" stroke="#1e1e1e" stroke-width="1.2"/>
<path d="M575.1 268.9 H596 V286.6" fill="none" stroke="#1e1e1e" stroke-width="1.2"/>
<text x="596.48" y="230.2" font-size="10.2" font-weight="bold" font-style="normal" text-anchor="middle" fill="#1c1c1c" class="st" letter-spacing="1.55">*</text>
<text x="586.38" y="249.1" font-size="10.2" font-weight="bold" font-style="normal" text-anchor="middle" fill="#1c1c1c" class="st" letter-spacing="1.55">*</text>
<text x="596.57" y="249.1" font-size="10.2" font-weight="bold" font-style="normal" text-anchor="middle" fill="#1c1c1c" class="st" letter-spacing="1.55">**</text>
<text x="586.27" y="268.6" font-size="10.2" font-weight="bold" font-style="normal" text-anchor="middle" fill="#1c1c1c" class="st" letter-spacing="1.55">*</text>
</svg>
</body>
</html>
